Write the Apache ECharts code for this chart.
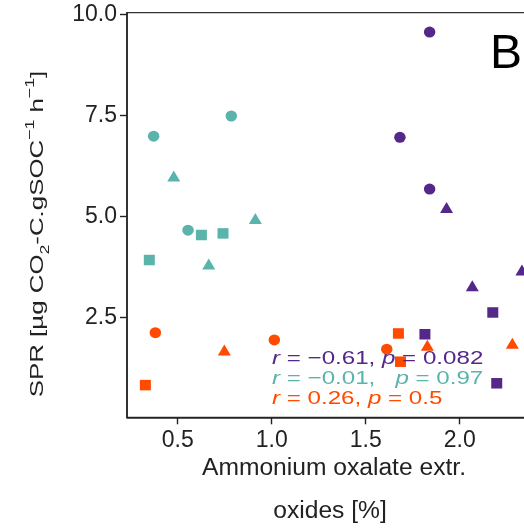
<!DOCTYPE html>
<html>
<head>
<meta charset="utf-8">
<script src="https://cdn.jsdelivr.net/npm/echarts@6/dist/echarts.min.js"></script>
<style>
  html, body { margin: 0; padding: 0; background: #fff; }
  #chart { width: 524px; height: 528px; }
</style>
</head>
<body>
<div id="chart"></div>
<script>
// values
const purpleX = [1.840, 1.682, 1.840, 1.930, 2.067, 2.331, 2.176, 1.815, 2.197]
const purpleY = [9.57, 6.96, 5.68, 5.22, 3.28, 3.67, 2.62, 2.08, 0.865]
const purpleShape = ["circle", "circle", "circle", "triangle", "triangle", "triangle", "rect", "rect", "rect"]

const tealX = [0.372, 0.785, 0.479, 0.913, 0.555, 0.626, 0.741, 0.349, 0.665]
const tealY = [6.99, 7.49, 6.00, 4.95, 4.66, 4.54, 4.58, 3.92, 3.82]
const tealShape = ["circle", "circle", "triangle", "triangle", "circle", "rect", "rect", "rect", "triangle"]

const orangeX = [0.381, 0.748, 1.014, 0.328, 1.674, 1.612, 1.685, 1.828, 2.280]
const orangeY = [2.12, 1.69, 1.94, 0.82, 2.10, 1.71, 1.40, 1.81, 1.86]
const orangeShape = ["circle", "triangle", "circle", "rect", "rect", "circle", "rect", "triangle", "triangle"]

const xTicks = [0.5, 1.0, 1.5, 2.0, 2.5]
const yTicks = [2.5, 5.0, 7.5, 10.0]

const statLines = [
  "{i|r} = \u22120.61, {i|p} = 0.082",
  "{i|r} = \u22120.01,   {i|p} = 0.97",
  "{i|r} = 0.26, {i|p} = 0.5",
]

const PURPLE = "#542788"
const TEAL = "#5ab4ac"
const ORANGE = "#ff4a00"
const FONT = "Liberation Sans"

// marker box size per shape
const sizes = { circle: [11.5, 11], rect: [11, 10.5], triangle: [13, 11] }

function points(xs, ys, shapes) {
  return xs.map((x, i) => ({
    value: [x, ys[i]],
    symbol: shapes[i],
    symbolSize: sizes[shapes[i]],
  }))
}

function scatter(xs, ys, shapes, color) {
  return {
    type: "scatter",
    data: points(xs, ys, shapes),
    itemStyle: { color: color, opacity: 1 },
    emphasis: { disabled: true },
  }
}

const chart = echarts.init(document.getElementById("chart"), null, { renderer: "canvas" })

const option = {
  animation: false,
  textStyle: { fontFamily: FONT },
  // panel runs past the right edge of the picture, like the cropped original
  grid: {
    left: 127,
    top: 12.7,
    bottom: 110.7,
    right: -48.5,
    outerBoundsMode: "none",
    show: true,
    borderColor: "#333",
    borderWidth: 1.3,
    containLabel: false,
  },
  xAxis: {
    type: "value",
    min: 0.2303,
    max: 2.6,
    splitLine: { show: false },
    axisLine: { onZero: false, lineStyle: { color: "#222", width: 1.6 } },
    axisTick: { length: 7, lineStyle: { color: "#222", width: 1.4 }, customValues: xTicks },
    axisLabel: {
      customValues: xTicks,
      color: "#222",
      fontSize: 23,
      fontFamily: FONT,
      margin: 12,
      formatter: (v) => v.toFixed(1),
    },
  },
  yAxis: {
    type: "value",
    min: 0.022,
    max: 10.05,
    splitLine: { show: false },
    axisLine: { onZero: false, lineStyle: { color: "#222", width: 1.6 } },
    axisTick: { length: 7, lineStyle: { color: "#222", width: 1.4 }, customValues: yTicks },
    axisLabel: {
      customValues: yTicks,
      color: "#222",
      fontSize: 23,
      fontFamily: FONT,
      margin: 10,
      formatter: (v) => v.toFixed(1),
    },
  },
  series: [
    scatter(tealX, tealY, tealShape, TEAL),
    scatter(orangeX, orangeY, orangeShape, ORANGE),
    scatter(purpleX, purpleY, purpleShape, PURPLE),
  ],
  graphic: [
    // x axis title, two lines
    {
      type: "text", x: 334, y: 469, scaleX: 1.07,
      style: { text: "Ammonium oxalate extr.", font: "23px " + FONT, fill: "#222", align: "center", verticalAlign: "middle" },
    },
    {
      type: "text", x: 330, y: 512, scaleX: 1.07,
      style: { text: "oxides [%]", font: "23px " + FONT, fill: "#222", align: "center", verticalAlign: "middle" },
    },
    // y axis title with sub/superscripts
    {
      type: "text", x: 38, y: 234, rotation: Math.PI / 2, scaleX: 1.36,
      style: {
        text: "SPR [\u00b5g CO{sub|2}-C.gSOC{sup|\u22121} h{sup|\u22121}]",
        font: "19px " + FONT,
        fill: "#222",
        align: "center",
        verticalAlign: "middle",
        lineHeight: 28,
        rich: {
          sub: { fontSize: 13, fontFamily: FONT, lineHeight: 12, verticalAlign: "bottom", fill: "#222" },
          sup: { fontSize: 13, fontFamily: FONT, lineHeight: 12, verticalAlign: "top", fill: "#222" },
        },
      },
    },
    // panel letter
    {
      type: "text", x: 506, y: 55,
      style: { text: "B", font: "48px " + FONT, fill: "#000", align: "center", verticalAlign: "middle" },
    },
    // correlation stats
    ...[PURPLE, TEAL, ORANGE].map((c, k) => ({
      type: "text", x: 272, y: 359 + k * 20, scaleX: 1.27, z: 100,
      style: {
        text: statLines[k],
        font: "19px " + FONT,
        fill: c,
        align: "left",
        verticalAlign: "middle",
        rich: { i: { fontStyle: "italic", fontSize: 19, fontFamily: FONT, fill: c } },
      },
    })),
  ],
}

chart.setOption(option)
</script>
</body>
</html>
